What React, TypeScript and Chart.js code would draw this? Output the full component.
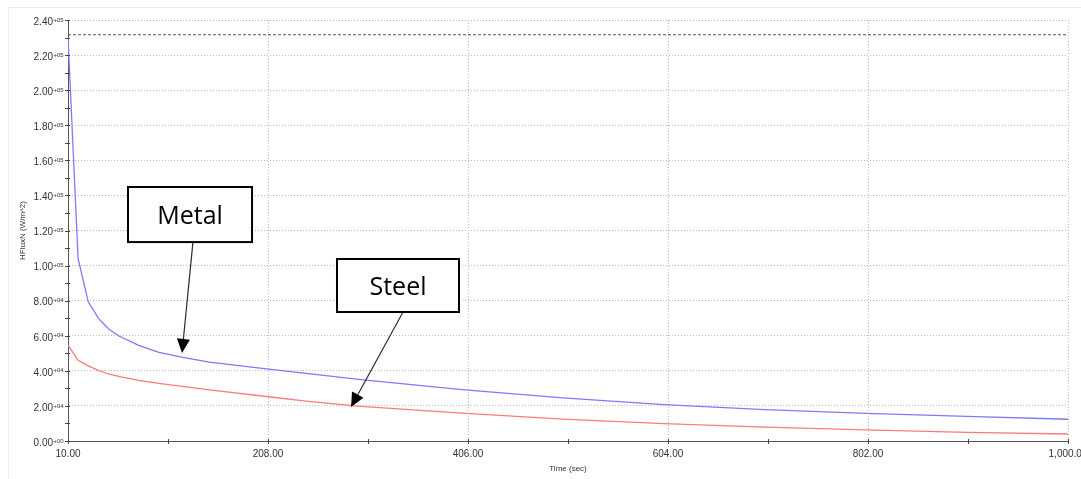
import { useEffect, useRef } from "react";
import { Chart, registerables } from "chart.js";

Chart.register(...registerables);

// ---- data ----
const TIME = [10, 20, 30, 40, 50, 60, 80, 100, 125, 150, 200, 250, 300, 400, 500, 600, 700, 800, 900, 1000];
const METAL = [230000, 104000, 79500, 70000, 64000, 60000, 54500, 50500, 47500, 45000, 41600, 38300, 35000, 29300, 24600, 20700, 17900, 15800, 14000, 12400];
const STEEL = [54700, 46000, 42800, 40300, 38200, 36900, 34600, 32800, 31000, 29200, 25800, 22500, 19700, 15900, 12500, 9900, 7900, 6300, 4900, 4000];
const LIMIT_TIME = [10, 1000];
const LIMIT_VALUE = [231600, 231600];

const X_MIN = 10;
const X_MAX = 1000;
const X_STEP = 198;
const Y_MIN = 0;
const Y_MAX = 240000;
const Y_STEP = 20000;

const X_TITLE = "Time (sec)";
const Y_TITLE = "HFluxN (W/m^2)";

// annotation callouts, in data coordinates
const CALLOUT_LABELS = ["Metal", "Steel"];
const CALLOUT_BOX_T = [[69.4, 192.2], [276.3, 397.1]];
const CALLOUT_BOX_V = [[144800, 113400], [103750, 73540]];
const CALLOUT_FROM = [[133.7, 113400], [341.7, 73540]];
const CALLOUT_TO = [[122.9, 50200], [290.2, 19380]];

const AXIS_FONT = "'Liberation Sans', Arial, sans-serif";

function fmtX(v: number) {
  return v.toLocaleString("en-US", { minimumFractionDigits: 2, maximumFractionDigits: 2 });
}

const decorPlugin = {
  id: "decor",
  beforeDraw(chart: any) {
    const { ctx, width, height } = chart;
    ctx.save();
    ctx.fillStyle = "#ffffff";
    ctx.fillRect(0, 0, width, height);
    ctx.strokeStyle = "#ececec";
    ctx.lineWidth = 1;
    ctx.beginPath();
    ctx.moveTo(8.5, height);
    ctx.lineTo(8.5, 7.5);
    ctx.lineTo(width, 7.5);
    ctx.stroke();
    ctx.restore();
  },
  afterDraw(chart: any) {
    const { ctx, chartArea } = chart;
    const xs = chart.scales.x;
    const ys = chart.scales.y;
    ctx.save();

    // tick marks (major + minor), crossing the axes
    ctx.strokeStyle = "#444";
    ctx.lineWidth = 1;
    ctx.beginPath();
    const xt = xs.ticks.map((t: any) => t.value);
    for (let i = 0; i < xt.length; i++) {
      const vals = [xt[i]];
      if (i < xt.length - 1) vals.push((xt[i] + xt[i + 1]) / 2);
      for (const v of vals) {
        const px = Math.round(xs.getPixelForValue(v)) + 0.5;
        ctx.moveTo(px, chartArea.bottom - 2);
        ctx.lineTo(px, chartArea.bottom + 3);
      }
    }
    const yt = ys.ticks.map((t: any) => t.value);
    for (let i = 0; i < yt.length; i++) {
      const vals = [yt[i]];
      if (i < yt.length - 1) vals.push((yt[i] + yt[i + 1]) / 2);
      for (const v of vals) {
        const py = Math.round(ys.getPixelForValue(v)) + 0.5;
        ctx.moveTo(chartArea.left - 3, py);
        ctx.lineTo(chartArea.left + 2, py);
      }
    }
    ctx.stroke();

    // y tick labels in "2.40+05" style
    ctx.fillStyle = "#333";
    for (const v of yt) {
      const exp = v === 0 ? 0 : Math.floor(Math.log10(v));
      const mant = (v / Math.pow(10, exp)).toFixed(2);
      const expStr = "+" + String(exp).padStart(2, "0");
      const py = ys.getPixelForValue(v);
      const xr = chartArea.left - 15;
      ctx.font = `10px ${AXIS_FONT}`;
      ctx.textAlign = "right";
      ctx.textBaseline = "middle";
      ctx.fillText(mant, xr, py + 2);
      ctx.font = `6px ${AXIS_FONT}`;
      ctx.textAlign = "left";
      ctx.textBaseline = "middle";
      ctx.fillText(expStr, xr + 0.5, py);
    }

    // callouts
    for (let i = 0; i < CALLOUT_LABELS.length; i++) {
      const x1 = xs.getPixelForValue(CALLOUT_BOX_T[i][0]);
      const x2 = xs.getPixelForValue(CALLOUT_BOX_T[i][1]);
      const y1 = ys.getPixelForValue(CALLOUT_BOX_V[i][0]);
      const y2 = ys.getPixelForValue(CALLOUT_BOX_V[i][1]);
      const fx = xs.getPixelForValue(CALLOUT_FROM[i][0]);
      const fy = ys.getPixelForValue(CALLOUT_FROM[i][1]);
      const tx = xs.getPixelForValue(CALLOUT_TO[i][0]);
      const ty = ys.getPixelForValue(CALLOUT_TO[i][1]);

      // arrow
      const ang = Math.atan2(ty - fy, tx - fx);
      const headLen = 14;
      const headHalf = 6.5;
      const bx = tx - headLen * Math.cos(ang);
      const by = ty - headLen * Math.sin(ang);
      ctx.strokeStyle = "#2a2a2a";
      ctx.lineWidth = 1.2;
      ctx.beginPath();
      ctx.moveTo(fx, fy);
      ctx.lineTo(bx, by);
      ctx.stroke();
      ctx.fillStyle = "#000";
      ctx.beginPath();
      ctx.moveTo(tx, ty);
      ctx.lineTo(bx + headHalf * Math.sin(ang), by - headHalf * Math.cos(ang));
      ctx.lineTo(bx - headHalf * Math.sin(ang), by + headHalf * Math.cos(ang));
      ctx.closePath();
      ctx.fill();

      // box
      ctx.fillStyle = "#fff";
      ctx.fillRect(x1, y1, x2 - x1, y2 - y1);
      ctx.strokeStyle = "#000";
      ctx.lineWidth = 2;
      ctx.strokeRect(x1, y1, x2 - x1, y2 - y1);
      ctx.fillStyle = "#000";
      ctx.font = "25px 'Open Sans', 'Noto Sans', sans-serif";
      ctx.textAlign = "center";
      ctx.textBaseline = "middle";
      ctx.fillText(CALLOUT_LABELS[i], (x1 + x2) / 2, (y1 + y2) / 2 + 2);
    }
    ctx.restore();
  },
};

export default function App() {
  const ref = useRef<HTMLCanvasElement | null>(null);

  useEffect(() => {
    document.body.style.margin = "0";
    if (!ref.current) return;
    const chart = new Chart(ref.current, {
      type: "line",
      data: {
        datasets: [
          {
            label: "Limit",
            data: LIMIT_TIME.map((t, i) => ({ x: t, y: LIMIT_VALUE[i] })),
            borderColor: "#555",
            borderWidth: 1,
            borderDash: [3, 2],
            pointRadius: 0,
          },
          {
            label: "Metal",
            data: TIME.map((t, i) => ({ x: t, y: METAL[i] })),
            borderColor: "#7b7bff",
            borderWidth: 1.3,
            pointRadius: 0,
            tension: 0,
          },
          {
            label: "Steel",
            data: TIME.map((t, i) => ({ x: t, y: STEEL[i] })),
            borderColor: "#ff7b7b",
            borderWidth: 1.3,
            pointRadius: 0,
            tension: 0,
          },
        ],
      },
      options: {
        animation: false,
        responsive: false,
        maintainAspectRatio: false,
        layout: { autoPadding: false, padding: { left: 0, top: 20, right: 13, bottom: 0 } },
        plugins: { legend: { display: false }, tooltip: { enabled: false } },
        scales: {
          x: {
            type: "linear",
            min: X_MIN,
            max: X_MAX,
            ticks: {
              stepSize: X_STEP,
              autoSkip: false,
              maxRotation: 0,
              color: "#333",
              padding: 7,
              font: { size: 10, family: AXIS_FONT },
              callback: (v: any) => fmtX(Number(v)),
            },
            grid: { color: "#b8b8b8", lineWidth: 1, drawTicks: false },
            border: { display: true, color: "#555", width: 1, dash: [1, 2] },
            title: {
              display: true,
              text: X_TITLE,
              color: "#333",
              font: { size: 8, family: AXIS_FONT },
              padding: { top: 0, bottom: 5 },
            },
            afterFit: (s: any) => {
              s.height = 38;
              s.paddingLeft = 0;
              s.paddingRight = 0;
            },
          },
          y: {
            type: "linear",
            min: Y_MIN,
            max: Y_MAX,
            ticks: { stepSize: Y_STEP, display: false },
            grid: { color: "#b8b8b8", lineWidth: 1, drawTicks: false },
            border: { display: true, color: "#555", width: 1, dash: [1, 2] },
            title: {
              display: true,
              text: Y_TITLE,
              color: "#333",
              font: { size: 8, family: AXIS_FONT },
              padding: { top: 18, bottom: 0 },
            },
            afterFit: (s: any) => {
              s.width = 68;
              s.paddingTop = 0;
              s.paddingBottom = 0;
            },
          },
        },
      },
      plugins: [decorPlugin],
    } as any);
    return () => chart.destroy();
  }, []);

  return <canvas ref={ref} width={1081} height={479} style={{ display: "block" }} />;
}
